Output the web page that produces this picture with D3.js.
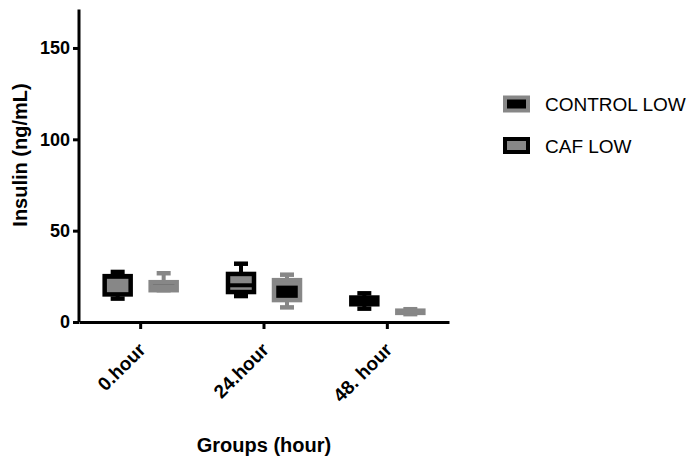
<!DOCTYPE html>
<html>
<head>
<meta charset="utf-8">
<script src="https://cdn.jsdelivr.net/npm/d3@7"></script>
<style>
  body { margin: 0; background: #fff; }
  text { font-family: "Liberation Sans", Arial, sans-serif; }
</style>
</head>
<body>
<script>
var width = 692, height = 465;

// groups along the x axis
var groups = ["0.hour", "24.hour", "48. hour"];
// legend order as printed
var legendNames = ["CONTROL LOW", "CAF LOW"];
// box order inside each group
var boxSeries = ["CAF LOW", "CONTROL LOW"];

// box stats per group: [min, q1, median, q3, max]
var cafLow = [
  [12.8, 15.1, 24.8, 25.1, 27.4],
  [14.2, 16.4, 20.1, 26.3, 31.9],
  [7.3, 9.7, 11.5, 13.4, 15.7]
];
var controlLow = [
  [17.4, 17.4, 19.6, 21.8, 26.7],
  [8.0, 12.0, 21.0, 22.9, 25.9],
  [4.3, 5.0, 5.6, 6.2, 7.0]
];
var yTicks = [0, 50, 100, 150];

var gray = "#878787";
var styles = {
  "CAF LOW": {stroke: "#000", fill: gray},
  "CONTROL LOW": {stroke: gray, fill: "#000"}
};
var statsBySeries = {"CAF LOW": cafLow, "CONTROL LOW": controlLow};

var svg = d3.select('body').append('svg').attr('width', width).attr('height', height);

var x0 = d3.scaleBand().domain(groups).range([79, 449]).padding(0);
var x1 = d3.scalePoint().domain(boxSeries)
  .range([x0.bandwidth() / 2 - 23, x0.bandwidth() / 2 + 23]);
var y = d3.scaleLinear().domain([0, 171]).range([322, 9.6]);

// build box records
var boxes = [];
boxSeries.forEach(function(s) {
  statsBySeries[s].forEach(function(v, i) {
    boxes.push({series: s, group: groups[i], min: v[0], q1: v[1], med: v[2], q3: v[3], max: v[4]});
  });
});

var boxW = 26, capW = 14, sw = 4.5;

var g = svg.selectAll('g.box').data(boxes).join('g').attr('class', 'box')
  .attr('transform', function(d) { return 'translate(' + (x0(d.group) + x1(d.series)) + ',0)'; });

// whiskers
g.append('line')
  .attr('x1', 0).attr('x2', 0)
  .attr('y1', function(d) { return y(d.max); })
  .attr('y2', function(d) { return y(d.min); })
  .attr('stroke', function(d) { return styles[d.series].stroke; })
  .attr('stroke-width', 4);
g.selectAll('line.cap').data(function(d) { return [{v: d.max, s: d.series}, {v: d.min, s: d.series}]; })
  .join('line').attr('class', 'cap')
  .attr('x1', -capW / 2).attr('x2', capW / 2)
  .attr('y1', function(d) { return y(d.v); })
  .attr('y2', function(d) { return y(d.v); })
  .attr('stroke', function(d) { return styles[d.s].stroke; })
  .attr('stroke-width', sw);

// box
g.append('rect')
  .attr('x', -boxW / 2).attr('width', boxW)
  .attr('y', function(d) { return y(d.q3); })
  .attr('height', function(d) { return y(d.q1) - y(d.q3); })
  .attr('fill', function(d) { return styles[d.series].fill; })
  .attr('stroke', function(d) { return styles[d.series].stroke; })
  .attr('stroke-width', sw);

// median
g.append('line')
  .attr('x1', -boxW / 2).attr('x2', boxW / 2)
  .attr('y1', function(d) { return y(d.med); })
  .attr('y2', function(d) { return y(d.med); })
  .attr('stroke', function(d) { return styles[d.series].stroke; })
  .attr('stroke-width', 4);

// axes
var yAxis = svg.append('g').attr('transform', 'translate(79,0)')
  .call(d3.axisLeft(y).tickValues(yTicks).tickSize(6).tickPadding(3).tickSizeOuter(0));
var xAxis = svg.append('g').attr('transform', 'translate(0,322)')
  .call(d3.axisBottom(x0).tickSize(7).tickSizeOuter(0));

[yAxis, xAxis].forEach(function(a) {
  a.select('.domain').attr('stroke', '#000').attr('stroke-width', 3);
  a.selectAll('.tick line').attr('stroke', '#000').attr('stroke-width', 3);
  a.selectAll('.tick text').attr('fill', '#000')
    .style('font-size', '18px').style('font-weight', 'bold')
    .style('font-family', '"Liberation Sans", Arial, sans-serif');
});
// y axis line extends to the top
yAxis.select('.domain').attr('d', 'M0,' + y(0) + 'V' + y(171));

xAxis.selectAll('.tick text')
  .style('font-size', '19px')
  .attr('text-anchor', 'end')
  .attr('x', 0).attr('y', 0).attr('dy', 0)
  .attr('transform', 'translate(6,29) rotate(-45)');

// axis titles
svg.append('text')
  .attr('transform', 'translate(27,155) rotate(-90)')
  .attr('text-anchor', 'middle')
  .style('font-size', '20px').style('font-weight', 'bold')
  .text('Insulin (ng/mL)');
svg.append('text')
  .attr('x', 264).attr('y', 452)
  .attr('text-anchor', 'middle')
  .style('font-size', '20px').style('font-weight', 'bold')
  .text('Groups (hour)');

// legend
var leg = svg.selectAll('g.legend').data(legendNames).join('g').attr('class', 'legend')
  .attr('transform', function(d, i) { return 'translate(505,' + (104 + i * 41.5) + ')'; });
leg.append('rect')
  .attr('x', 0).attr('y', -6.5).attr('width', 23).attr('height', 13)
  .attr('fill', function(d) { return styles[d].fill; })
  .attr('stroke', function(d) { return styles[d].stroke; })
  .attr('stroke-width', 4);
leg.append('text')
  .attr('x', 40).attr('y', 7)
  .style('font-size', '19px')
  .text(function(d) { return d; });

console.log('ready..');
</script>
</body>
</html>
